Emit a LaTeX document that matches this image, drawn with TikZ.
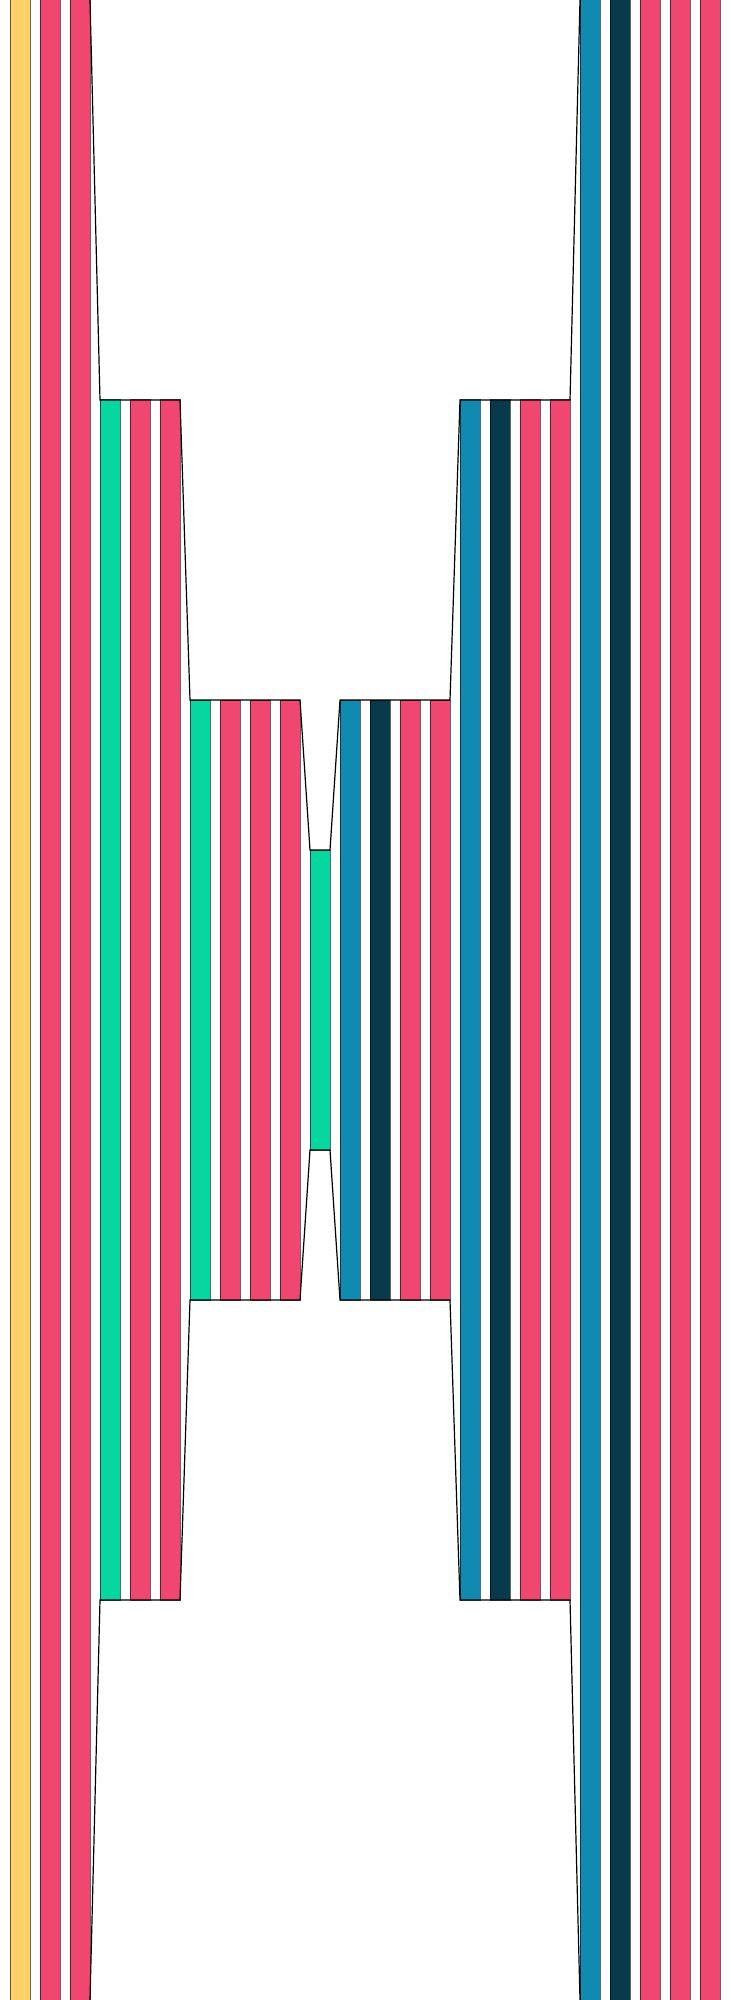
\documentclass[tikz,border=0pt]{standalone}
\usepackage{xcolor}
\definecolor{cyel}{HTML}{FFD166}
\definecolor{cred}{HTML}{EF476F}
\definecolor{cgrn}{HTML}{06D6A0}
\definecolor{cblu}{HTML}{118AB2}
\definecolor{cdrk}{HTML}{073B4C}
\tikzset{
  bar/.style={draw=black, draw opacity=0.6, line width=0.5pt},
  hull/.style={draw=black, line width=0.6pt},
}
\newcommand{\barat}[4]{\fill[#1] (#2,#3) rectangle ++(20,#4-#3); \draw[bar] (#2,#3) rectangle ++(20,#4-#3);}
\begin{document}
\begin{tikzpicture}[x=0.5pt,y=-0.5pt]
\useasboundingbox (0,0) rectangle (730,2000);
\fill[white] (0,0) rectangle (730,2000);
% level 1
\foreach \x/\c in {10/cyel,40/cred,70/cred,580/cblu,610/cdrk,640/cred,670/cred,700/cred}{
  \filldraw[fill=\c,bar] (\x,0) rectangle (\x+20,2000);
}
% level 2
\foreach \x/\c in {100/cgrn,130/cred,160/cred,460/cblu,490/cdrk,520/cred,550/cred}{
  \filldraw[fill=\c,bar] (\x,400) rectangle (\x+20,1600);
}
% level 3
\foreach \x/\c in {190/cgrn,220/cred,250/cred,280/cred,340/cblu,370/cdrk,400/cred,430/cred}{
  \filldraw[fill=\c,bar] (\x,700) rectangle (\x+20,1300);
}
% level 4
\filldraw[fill=cgrn,bar] (310,850) rectangle (330,1150);
% hull outline
\draw[hull] (90,0) -- (100,400) -- (180,400) -- (190,700) -- (300,700) -- (310,850) -- (330,850) -- (340,700) -- (450,700) -- (460,400) -- (570,400) -- (580,0);
\draw[hull] (90,2000) -- (100,1600) -- (180,1600) -- (190,1300) -- (300,1300) -- (310,1150) -- (330,1150) -- (340,1300) -- (450,1300) -- (460,1600) -- (570,1600) -- (580,2000);
\end{tikzpicture}
\end{document}
